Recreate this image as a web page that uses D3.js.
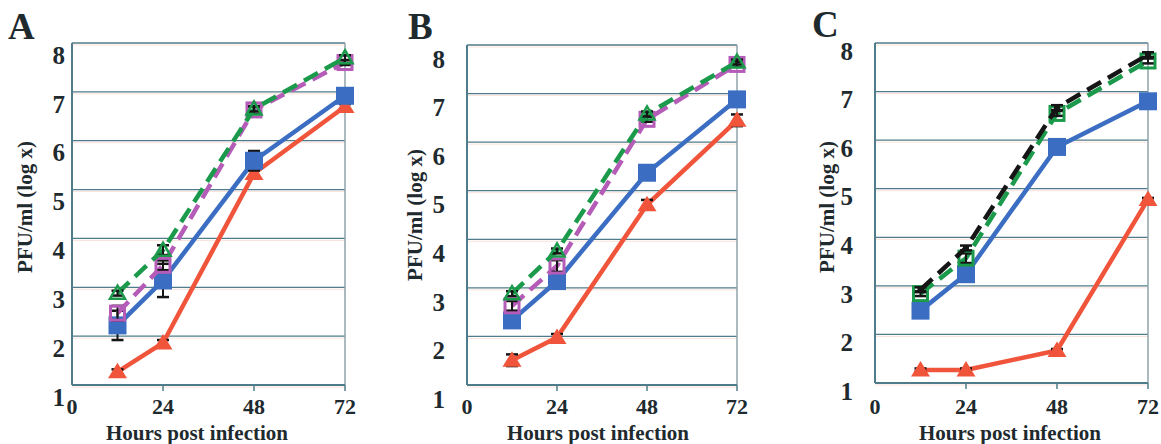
<!DOCTYPE html>
<html>
<head>
<meta charset="utf-8">
<script src="https://cdn.jsdelivr.net/npm/d3@7"></script>
<style>
  body { margin: 0; background: #fff; }
  svg { display: block; }
  text { font-family: "Liberation Serif", "Times New Roman", serif; font-weight: bold; fill: #1e2a2e; }
</style>
</head>
<body>
<div id="chart"></div>
<script>
// hours post infection, values in log PFU/ml
const hours = [12, 24, 48, 72];
const xTicks = [0, 24, 48, 72];
const yTicks = [1, 2, 3, 4, 5, 6, 7, 8];

// panel A
const aRed = [1.27, 1.86, 5.33, 6.7];
const aRedErr = [0.05, 0.06, 0.08, 0.05];
const aBlue = [2.22, 3.14, 5.59, 6.92];
const aBlueErr = [0.3, 0.34, 0.2, 0.05];
const aMagenta = [2.47, 3.45, 6.63, 7.6];
const aMagentaErr = [0.15, 0.1, 0.08, 0.05];
const aGreen = [2.88, 3.76, 6.65, 7.7];
const aGreenErr = [0.05, 0.1, 0.05, 0.05];

// panel B
const bRed = [1.51, 1.98, 4.71, 6.45];
const bRedErr = [0.12, 0.07, 0.1, 0.12];
const bBlue = [2.33, 3.14, 5.37, 6.88];
const bBlueErr = [0.05, 0.1, 0.05, 0.05];
const bMagenta = [2.63, 3.45, 6.47, 7.6];
const bMagentaErr = [0.1, 0.12, 0.05, 0.05];
const bGreen = [2.88, 3.76, 6.58, 7.65];
const bGreenErr = [0.05, 0.05, 0.05, 0.05];

// panel C
const cRed = [1.27, 1.27, 1.67, 4.78];
const cRedErr = [0.03, 0.03, 0.03, 0.03];
const cBlue = [2.49, 3.24, 5.86, 6.8];
const cBlueErr = [0.05, 0.05, 0.07, 0.05];
const cGreen = [2.84, 3.57, 6.55, 7.63];
const cGreenErr = [0.05, 0.1, 0.05, 0.05];
const cBlack = [2.92, 3.78, 6.67, 7.76];
const cBlackErr = [0.05, 0.05, 0.05, 0.05];

const colors = {
  RED: '#f0553c',
  BLUE: '#3b6ec2',
  MAGENTA: '#b45cb8',
  GREEN: '#1c9a4c',
  BLACK: '#151515',
  GRID: '#4f7c8a',
  GRIDSHADOW: '#fae3db',
  FRAME: '#8fa3aa'
};

const panels = [
  {
    letter: 'A', letterX: 8, letterY: 39,
    left: 72, right: 345, top: 43, bottom: 385,
    yLabelDx: 7, yLabelDy: 12, titleX: 197, yTitleX: 25, yTitleY: 207,
    series: [
      { v: aRed, e: aRedErr, color: colors.RED, dash: null, mark: 'tri' },
      { v: aBlue, e: aBlueErr, color: colors.BLUE, dash: null, mark: 'sq' },
      { v: aMagenta, e: aMagentaErr, color: colors.MAGENTA, dash: '16,8', mark: 'osq' },
      { v: aGreen, e: aGreenErr, color: colors.GREEN, dash: '16,8', mark: 'otri' }
    ]
  },
  {
    letter: 'B', letterX: 408, letterY: 39,
    left: 467, right: 737, top: 45, bottom: 385,
    yLabelDx: 22, yLabelDy: 14, titleX: 598, yTitleX: 415, yTitleY: 215,
    series: [
      { v: bRed, e: bRedErr, color: colors.RED, dash: null, mark: 'tri' },
      { v: bBlue, e: bBlueErr, color: colors.BLUE, dash: null, mark: 'sq' },
      { v: bMagenta, e: bMagentaErr, color: colors.MAGENTA, dash: '16,8', mark: 'osq' },
      { v: bGreen, e: bGreenErr, color: colors.GREEN, dash: '16,8', mark: 'otri' }
    ]
  },
  {
    letter: 'C', letterX: 812, letterY: 37,
    left: 875, right: 1148, top: 43, bottom: 383,
    yLabelDx: 22, yLabelDy: 8, titleX: 1010, yTitleX: 827, yTitleY: 207,
    series: [
      { v: cRed, e: cRedErr, color: colors.RED, dash: null, mark: 'tri' },
      { v: cBlue, e: cBlueErr, color: colors.BLUE, dash: null, mark: 'sq' },
      { v: cGreen, e: cGreenErr, color: colors.GREEN, dash: '16,8', mark: 'gsq' },
      { v: cBlack, e: cBlackErr, color: colors.BLACK, dash: '16,8', mark: 'bsq' }
    ]
  }
];

const svg = d3.select('#chart').append('svg')
  .attr('width', 1161)
  .attr('height', 444);

const drawMark = (g, kind, color, cx, cy) => {
  if (kind === 'sq') {
    g.append('rect').attr('x', cx - 9).attr('y', cy - 9).attr('width', 18).attr('height', 18)
      .attr('fill', color);
  } else if (kind === 'tri') {
    g.append('path').attr('d', `M${cx} ${cy - 9}L${cx + 9.5} ${cy + 6.5}L${cx - 9.5} ${cy + 6.5}Z`)
      .attr('fill', color);
  } else if (kind === 'osq' || kind === 'gsq') {
    g.append('rect').attr('x', cx - 7).attr('y', cy - 7).attr('width', 14).attr('height', 14)
      .attr('fill', 'none').attr('stroke', color).attr('stroke-width', 3);
  } else if (kind === 'otri') {
    g.append('path').attr('d', `M${cx} ${cy - 7.5}L${cx + 7.5} ${cy + 5.5}L${cx - 7.5} ${cy + 5.5}Z`)
      .attr('fill', 'none').attr('stroke', color).attr('stroke-width', 2.5);
  } else if (kind === 'bsq') {
    g.append('rect').attr('x', cx - 3).attr('y', cy - 3).attr('width', 6).attr('height', 6)
      .attr('fill', color);
  }
};

panels.forEach((p) => {
  const x = d3.scaleLinear().domain([0, 72]).range([p.left, p.right]);
  const y = d3.scaleLinear().domain([1, 8]).range([p.bottom, p.top]);

  const gGrid = svg.append('g');
  const gAxis = svg.append('g');
  const gLines = svg.append('g');
  const gText = svg.append('g');

  // gridlines with a faint print-shift shadow
  yTicks.forEach((t) => {
    gGrid.append('line')
      .attr('x1', p.left).attr('x2', p.right)
      .attr('y1', y(t) + 2).attr('y2', y(t) + 2)
      .attr('stroke', colors.GRIDSHADOW).attr('stroke-width', 1);
    gGrid.append('line')
      .attr('x1', p.left).attr('x2', p.right)
      .attr('y1', y(t)).attr('y2', y(t))
      .attr('stroke', colors.GRID).attr('stroke-width', 1.3);
  });
  // right frame
  gGrid.append('line')
    .attr('x1', p.right).attr('x2', p.right)
    .attr('y1', p.top).attr('y2', p.bottom)
    .attr('stroke', colors.FRAME).attr('stroke-width', 1.5);

  // axes
  gAxis.append('line')
    .attr('x1', p.left).attr('x2', p.left)
    .attr('y1', p.top).attr('y2', p.bottom)
    .attr('stroke', colors.GRID).attr('stroke-width', 2);
  gAxis.append('line')
    .attr('x1', p.left).attr('x2', p.right)
    .attr('y1', p.bottom).attr('y2', p.bottom)
    .attr('stroke', colors.GRID).attr('stroke-width', 2);
  xTicks.slice(1).forEach((t) => {
    gAxis.append('line')
      .attr('x1', x(t)).attr('x2', x(t))
      .attr('y1', p.bottom).attr('y2', p.bottom + 6)
      .attr('stroke', colors.GRID).attr('stroke-width', 1.5);
  });

  // series
  const line = d3.line().x((d) => x(d[0])).y((d) => y(d[1]));
  p.series.forEach((s) => {
    const pts = hours.map((h, i) => [h, s.v[i]]);
    gLines.append('path')
      .attr('d', line(pts))
      .attr('fill', 'none')
      .attr('stroke', s.color)
      .attr('stroke-width', 4.5)
      .attr('stroke-dasharray', s.dash);
    pts.forEach((d, i) => {
      const cx = x(d[0]);
      const y0 = y(d[1] - s.e[i]);
      const y1 = y(d[1] + s.e[i]);
      gLines.append('line')
        .attr('x1', cx).attr('x2', cx).attr('y1', y0).attr('y2', y1)
        .attr('stroke', colors.BLACK).attr('stroke-width', 2);
      [y0, y1].forEach((yy) => {
        gLines.append('line')
          .attr('x1', cx - 6).attr('x2', cx + 6).attr('y1', yy).attr('y2', yy)
          .attr('stroke', colors.BLACK).attr('stroke-width', 2.5);
      });
      drawMark(gLines, s.mark, s.color, cx, y(d[1]));
    });
  });

  // tick labels
  yTicks.forEach((t) => {
    gText.append('text')
      .attr('x', p.left - p.yLabelDx)
      .attr('y', y(t) + p.yLabelDy)
      .attr('dy', '0.35em')
      .attr('text-anchor', 'end')
      .attr('font-size', 25)
      .text(t);
  });
  xTicks.forEach((t) => {
    gText.append('text')
      .attr('x', x(t))
      .attr('y', 414)
      .attr('text-anchor', 'middle')
      .attr('font-size', 22)
      .text(t);
  });

  gText.append('text')
    .attr('x', p.titleX)
    .attr('y', 440)
    .attr('text-anchor', 'middle')
    .attr('font-size', 21)
    .text('Hours post infection');

  gText.append('text')
    .attr('transform', `translate(${p.yTitleX},${p.yTitleY}) rotate(-90)`)
    .attr('dy', '0.35em')
    .attr('text-anchor', 'middle')
    .attr('font-size', 21)
    .text('PFU/ml (log x)');

  gText.append('text')
    .attr('x', p.letterX)
    .attr('y', p.letterY)
    .attr('font-size', 37)
    .text(p.letter);
});
</script>
</body>
</html>
